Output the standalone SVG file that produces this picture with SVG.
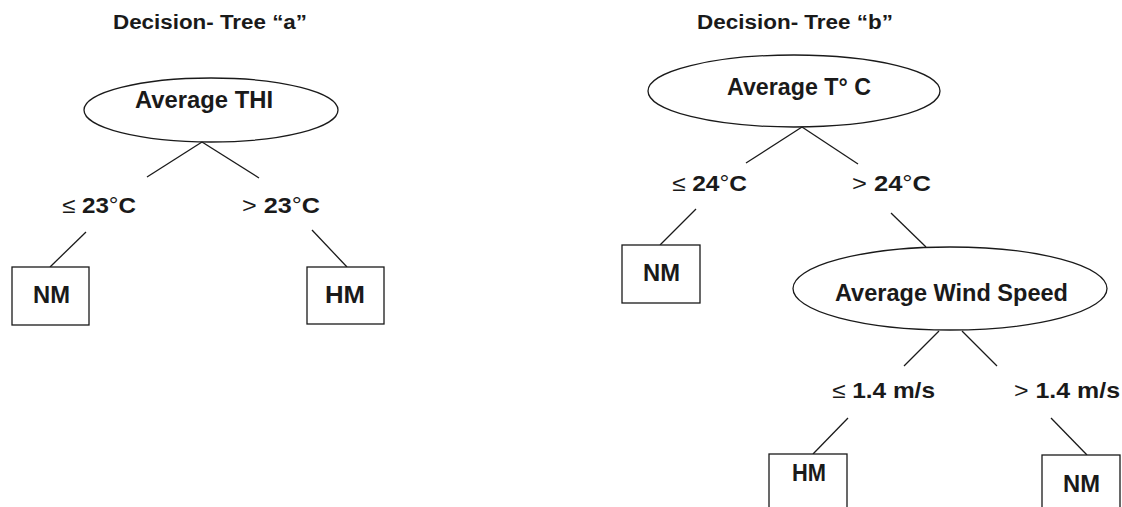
<svg xmlns="http://www.w3.org/2000/svg" width="1122" height="507" viewBox="0 0 1122 507">
<style>
.shape{fill:none;stroke:#1a1a1a;stroke-width:1.3}
.box{fill:#fff;stroke:#1a1a1a;stroke-width:1.3}
text{font-family:"Liberation Sans",Arial,sans-serif;font-weight:bold;fill:#1a1a1a}
.title{font-size:20px}
.node{font-size:24px}
.lab{font-size:22px}
.thin{font-weight:normal}
</style>
<rect width="1122" height="507" fill="#fff"/>
<text class="title" x="113" y="29" textLength="194" lengthAdjust="spacingAndGlyphs">Decision- Tree “a”</text>
<text class="title" x="697" y="29" textLength="196" lengthAdjust="spacingAndGlyphs">Decision- Tree “b”</text>
<g id="connectors" class="shape">
<line x1="202" y1="142" x2="147" y2="177"/>
<line x1="202" y1="142" x2="259" y2="178"/>
<line x1="86" y1="232" x2="50" y2="267"/>
<line x1="312" y1="230" x2="347" y2="267"/>
<line x1="802" y1="127" x2="746" y2="163"/>
<line x1="802" y1="127" x2="858" y2="164"/>
<line x1="696" y1="209" x2="660" y2="245"/>
<line x1="891" y1="213" x2="926" y2="247"/>
<line x1="939" y1="331" x2="904" y2="366"/>
<line x1="962" y1="331" x2="997" y2="366"/>
<line x1="848" y1="418" x2="813" y2="454"/>
<line x1="1051" y1="418" x2="1087" y2="455"/>
</g>
<g id="thi">
<ellipse class="shape" cx="211" cy="110" rx="127" ry="32"/>
<text class="node" x="135" y="108" textLength="138" lengthAdjust="spacingAndGlyphs">Average THI</text>
</g>
<g id="lab-a-le">
<text class="lab" x="62" y="213" textLength="74" lengthAdjust="spacingAndGlyphs"><tspan class="thin">≤</tspan> 23<tspan class="thin">°</tspan>C</text>
</g>
<g id="lab-a-gt">
<text class="lab" x="242" y="213" textLength="78" lengthAdjust="spacingAndGlyphs"><tspan class="thin">&gt;</tspan> 23<tspan class="thin">°</tspan>C</text>
</g>
<g id="nm-a">
<rect class="box" x="12" y="267" width="77" height="58"/>
<text class="node" x="33" y="303" textLength="37" lengthAdjust="spacingAndGlyphs">NM</text>
</g>
<g id="hm-a">
<rect class="box" x="307" y="267" width="77" height="57"/>
<text class="node" x="325" y="303" textLength="40" lengthAdjust="spacingAndGlyphs">HM</text>
</g>
<g id="temp">
<ellipse class="shape" cx="794" cy="91" rx="146" ry="36"/>
<text class="node" x="727" y="95" textLength="144" lengthAdjust="spacingAndGlyphs">Average T° C</text>
</g>
<g id="lab-b-le">
<text class="lab" x="672" y="191" textLength="75" lengthAdjust="spacingAndGlyphs"><tspan class="thin">≤</tspan> 24<tspan class="thin">°</tspan>C</text>
</g>
<g id="lab-b-gt">
<text class="lab" x="852" y="191" textLength="79" lengthAdjust="spacingAndGlyphs"><tspan class="thin">&gt;</tspan> 24<tspan class="thin">°</tspan>C</text>
</g>
<g id="nm-b">
<rect class="box" x="622" y="245" width="78" height="58"/>
<text class="node" x="643" y="281" textLength="37" lengthAdjust="spacingAndGlyphs">NM</text>
</g>
<g id="wind">
<ellipse class="shape" cx="950" cy="288.5" rx="157" ry="41.5"/>
<text class="node" x="835" y="301" textLength="233" lengthAdjust="spacingAndGlyphs">Average Wind Speed</text>
</g>
<g id="lab-w-le">
<text class="lab" x="832" y="398" textLength="103" lengthAdjust="spacingAndGlyphs"><tspan class="thin">≤</tspan> 1.4 m/s</text>
</g>
<g id="lab-w-gt">
<text class="lab" x="1014" y="398" textLength="106" lengthAdjust="spacingAndGlyphs"><tspan class="thin">&gt;</tspan> 1.4 m/s</text>
</g>
<g id="hm-b">
<rect class="box" x="769" y="454" width="78" height="60"/>
<text class="node" x="792" y="481" textLength="34" lengthAdjust="spacingAndGlyphs">HM</text>
</g>
<g id="nm-b2">
<rect class="box" x="1042" y="455" width="78" height="60"/>
<text class="node" x="1063" y="492" textLength="37" lengthAdjust="spacingAndGlyphs">NM</text>
</g>
</svg>
